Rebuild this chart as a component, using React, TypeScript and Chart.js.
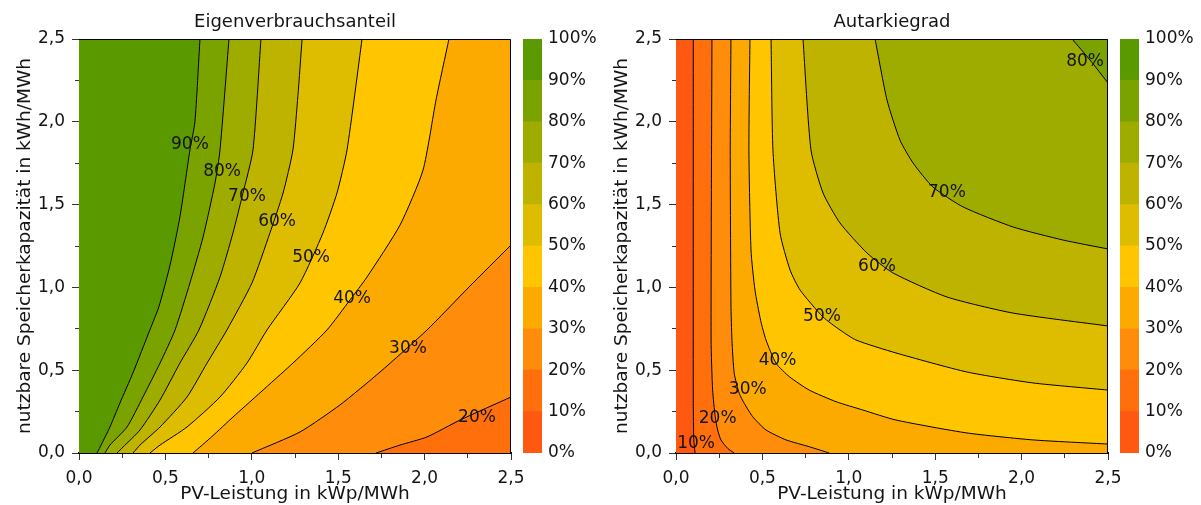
import React, { useEffect, useRef } from 'react';
import { Chart, registerables } from 'chart.js';

Chart.register(...registerables);

type Pt = [number, number];

const FONT = "'DejaVu Sans', Verdana, sans-serif";
const INK = '#141414';

// colours of the ten bands 0-10 % ... 90-100 %
const bandColors = [
  '#FF5810', '#FF700C', '#FF8C0A', '#FDAA00', '#FFC600',
  '#DEBD00', '#BEB400', '#9EAC00', '#7BA300', '#5A9A00',
];
const colorbarLabels = ['0%', '10%', '20%', '30%', '40%', '50%', '60%', '70%', '80%', '90%', '100%'];

const axisMin = 0;
const axisMax = 2.5;
const minorStep = 0.25;
const tickLabels = ['0,0', '0,5', '1,0', '1,5', '2,0', '2,5'];

const xTitle = 'PV-Leistung in kWp/MWh';
const yTitle = 'nutzbare Speicherkapazität in kWh/MWh';
const leftTitle = 'Eigenverbrauchsanteil';
const rightTitle = 'Autarkiegrad';

// ---- Eigenverbrauchsanteil: contour lines (x = PV, y = storage), bottom -> top/right
const ev20: Pt[] = [[1.719, 0], [1.858, 0.048], [2.014, 0.097], [2.205, 0.199], [2.5, 0.338]];
const ev30: Pt[] = [[1.001, 0], [1.279, 0.127], [1.51, 0.29], [1.742, 0.489], [2.014, 0.743], [2.251, 0.996], [2.5, 1.256]];
const ev40: Pt[] = [[0.66, 0], [0.77, 0.1], [0.891, 0.217], [1.238, 0.543], [1.435, 0.743], [1.568, 0.924], [1.667, 1.063], [1.858, 1.377], [1.991, 1.709], [2.066, 2.132], [2.141, 2.5]];
const ev50: Pt[] = [[0.411, 0], [0.469, 0.048], [0.625, 0.157], [0.816, 0.338], [0.972, 0.543], [1.088, 0.743], [1.279, 1.027], [1.412, 1.329], [1.493, 1.57], [1.551, 1.83], [1.638, 2.5]];
const ev60: Pt[] = [[0.313, 0], [0.353, 0.048], [0.469, 0.157], [0.625, 0.338], [0.741, 0.543], [0.856, 0.743], [1.001, 1.027], [1.105, 1.329], [1.181, 1.57], [1.238, 1.83], [1.267, 2.16], [1.291, 2.5]];
const ev70: Pt[] = [[0.22, 0], [0.255, 0.036], [0.353, 0.139], [0.469, 0.32], [0.584, 0.543], [0.694, 0.743], [0.816, 1.063], [0.891, 1.329], [0.949, 1.57], [1.007, 1.83], [1.053, 2.5]];
const ev80: Pt[] = [[0.15, 0], [0.179, 0.048], [0.278, 0.157], [0.37, 0.338], [0.469, 0.543], [0.556, 0.743], [0.642, 1.027], [0.718, 1.304], [0.787, 1.63], [0.816, 1.83], [0.868, 2.5]];
const ev90: Pt[] = [[0.104, 0], [0.122, 0.036], [0.179, 0.157], [0.237, 0.302], [0.312, 0.483], [0.41, 0.743], [0.462, 0.882], [0.527, 1.135], [0.584, 1.425], [0.642, 1.83], [0.671, 2.0], [0.7, 2.5]];
const evLevels = [20, 30, 40, 50, 60, 70, 80, 90];
const evLines = [ev20, ev30, ev40, ev50, ev60, ev70, ev80, ev90];
const evLabelPos: Pt[] = [[2.303, 0.211], [1.904, 0.628], [1.58, 0.93], [1.343, 1.178], [1.146, 1.395], [0.972, 1.546], [0.828, 1.697], [0.642, 1.86]];

// ---- Autarkiegrad: contour lines, top -> bottom/right
const aut10: Pt[] = [[0.1, 2.5], [0.1, 0.3], [0.103, 0.08], [0.11, 0]];
const aut20: Pt[] = [[0.208, 2.5], [0.203, 0.682], [0.212, 0.38], [0.227, 0.219], [0.241, 0.139], [0.26, 0.079], [0.299, 0.028], [0.336, 0]];
const aut30: Pt[] = [[0.318, 2.5], [0.314, 1.83], [0.318, 0.9], [0.324, 0.68], [0.337, 0.481], [0.366, 0.36], [0.395, 0.3], [0.444, 0.219], [0.521, 0.139], [0.637, 0.079], [0.771, 0.038], [0.887, 0]];
const aut40: Pt[] = [[0.428, 2.5], [0.422, 1.83], [0.434, 1.226], [0.457, 0.984], [0.49, 0.8], [0.521, 0.682], [0.579, 0.542], [0.656, 0.461], [0.771, 0.38], [0.926, 0.31], [1.08, 0.26], [1.273, 0.199], [1.684, 0.121], [2.066, 0.079], [2.5, 0.054]];
const aut50: Pt[] = [[0.55, 2.5], [0.561, 1.83], [0.602, 1.329], [0.66, 1.105], [0.718, 0.984], [0.851, 0.821], [0.949, 0.743], [1.042, 0.682], [1.273, 0.604], [1.684, 0.489], [2.066, 0.423], [2.5, 0.38]];
const aut60: Pt[] = [[0.735, 2.5], [0.781, 1.83], [0.851, 1.57], [0.949, 1.389], [1.105, 1.208], [1.256, 1.087], [1.568, 0.942], [1.95, 0.845], [2.5, 0.767]];
const aut70: Pt[] = [[1.152, 2.5], [1.221, 2.132], [1.296, 1.89], [1.372, 1.751], [1.487, 1.606], [1.661, 1.486], [1.95, 1.365], [2.24, 1.286], [2.5, 1.232]];
const aut80: Pt[] = [[2.292, 2.5], [2.396, 2.373], [2.5, 2.234]];
const autLevels = [10, 20, 30, 40, 50, 60, 70, 80];
const autLines = [aut10, aut20, aut30, aut40, aut50, aut60, aut70, aut80];
const autLabelPos: Pt[] = [[0.116, 0.058], [0.241, 0.205], [0.415, 0.38], [0.588, 0.557], [0.845, 0.821], [1.163, 1.123], [1.568, 1.57], [2.367, 2.361]];

const TENSION = 0.2;

// close a contour into the region where the value is above the level
function closeEv(line: Pt[]): Pt[] {
  const end = line[line.length - 1];
  const corners: Pt[] = end[0] >= axisMax && end[1] < axisMax
    ? [[axisMax, axisMax], [axisMin, axisMax], [axisMin, axisMin]]
    : [[axisMin, axisMax], [axisMin, axisMin]];
  return [...line, end, ...corners];
}
function closeAut(line: Pt[]): Pt[] {
  const end = line[line.length - 1];
  const corners: Pt[] = end[1] <= axisMin
    ? [[axisMax, axisMin], [axisMax, axisMax]]
    : [[axisMax, axisMax]];
  return [...line, end, ...corners];
}

const toXY = (pts: Pt[]) => pts.map(([x, y]) => ({ x, y }));

const tickFont = { family: FONT, size: 17 };
const titleFont = { family: FONT, size: 18.5 };

function fmtTick(_v: any, i: number) {
  return i % 2 === 0 ? tickLabels[i / 2] : '';
}

const framePlugin = {
  id: 'frame',
  afterDraw(chart: any) {
    const { ctx, chartArea: a } = chart;
    ctx.save();
    ctx.strokeStyle = '#000';
    ctx.lineWidth = 1;
    ctx.beginPath();
    ctx.moveTo(a.left, a.top + 0.5);
    ctx.lineTo(a.right - 0.5, a.top + 0.5);
    ctx.lineTo(a.right - 0.5, a.bottom);
    ctx.stroke();
    ctx.restore();
  },
};

function labelPlugin(levels: number[], pos: Pt[]) {
  return {
    id: 'contourLabels',
    afterDatasetsDraw(chart: any) {
      const { ctx, scales } = chart;
      ctx.save();
      ctx.font = `17px ${FONT}`;
      ctx.fillStyle = INK;
      ctx.textAlign = 'center';
      ctx.textBaseline = 'middle';
      levels.forEach((lv, i) => {
        ctx.fillText(lv + '%', scales.x.getPixelForValue(pos[i][0]), scales.y.getPixelForValue(pos[i][1]));
      });
      ctx.restore();
    },
  };
}

type PanelProps = {
  left: number;
  title: string;
  levels: number[];
  lines: Pt[][];
  labelPos: Pt[];
  baseBand: number;
  closer: (l: Pt[]) => Pt[];
};

function ContourPanel({ left, title, levels, lines, labelPos, baseBand, closer }: PanelProps) {
  const ref = useRef<HTMLCanvasElement>(null);
  useEffect(() => {
    const ds: any[] = [];
    const full: Pt[] = [[axisMin, axisMin], [axisMax, axisMin], [axisMax, axisMax], [axisMin, axisMax]];
    const fillDs = (pts: Pt[], color: string, tension: number) => ({
      data: toXY(pts), showLine: true, fill: 'shape', backgroundColor: color,
      borderColor: 'rgba(0,0,0,0)', borderWidth: 0, pointRadius: 0, pointHoverRadius: 0, tension,
    });
    ds.push(fillDs(full, bandColors[baseBand], 0));
    levels.forEach((lv, i) => ds.push(fillDs(closer(lines[i]), bandColors[lv / 10], TENSION)));
    lines.forEach((l) => ds.push({
      data: toXY(l), showLine: true, fill: false, borderColor: '#000', borderWidth: 1,
      pointRadius: 0, pointHoverRadius: 0, tension: TENSION,
    }));
    const n = ds.length;
    ds.forEach((d, k) => { d.order = n - k; });

    const chart = new Chart(ref.current!, {
      type: 'scatter',
      data: { datasets: ds },
      options: {
        animation: false,
        responsive: false,
        events: [],
        layout: { padding: { left: 0, right: 29, top: 0, bottom: 0 } },
        plugins: {
          legend: { display: false },
          tooltip: { enabled: false },
          title: {
            display: true, text: title, fullSize: false, color: INK,
            font: { family: FONT, size: 18, weight: 'normal' },
            padding: { top: 12, bottom: 5.4 },
          },
        },
        scales: {
          x: {
            type: 'linear', position: 'bottom', min: axisMin, max: axisMax, z: 1,
            ticks: { stepSize: minorStep, autoSkip: false, maxRotation: 0, color: INK, font: tickFont, padding: 8, callback: fmtTick },
            grid: {
              drawOnChartArea: false, drawTicks: true, tickLength: 7, tickColor: '#333', tickWidth: 1,
              tickBorderDash: (c: any) => (c.index % 2 === 0 ? [] : [4, 50]),
            },
            border: { display: true, color: '#000', width: 2 },
            title: { display: true, text: xTitle, color: INK, font: titleFont, padding: { top: 0, bottom: 0 } },
            afterFit: (s: any) => { s.height = 52; },
          },
          y: {
            type: 'linear', position: 'left', min: axisMin, max: axisMax, z: 1,
            ticks: { stepSize: minorStep, autoSkip: false, color: INK, font: tickFont, padding: 7, callback: fmtTick },
            grid: {
              drawOnChartArea: false, drawTicks: true, tickLength: 7, tickColor: '#333', tickWidth: 1,
              tickBorderDash: (c: any) => (c.index % 2 === 0 ? [] : [0, 3, 4, 50]),
            },
            border: { display: true, color: '#000', width: 1 },
            title: { display: true, text: yTitle, color: INK, font: titleFont, padding: { top: 14, bottom: 0 } },
            afterFit: (s: any) => { s.width = 79; },
          },
        },
      } as any,
      plugins: [framePlugin, labelPlugin(levels, labelPos)],
    });
    return () => chart.destroy();
  }, []);
  return (
    <canvas ref={ref} width={540} height={505}
      style={{ position: 'absolute', left, top: 0, width: 540, height: 505 }} />
  );
}

function ColorBar({ left }: { left: number }) {
  const ref = useRef<HTMLCanvasElement>(null);
  const W = 81;
  useEffect(() => {
    const chart = new Chart(ref.current!, {
      type: 'bar',
      data: {
        labels: [''],
        datasets: bandColors.map((c) => ({
          data: [10], backgroundColor: c, borderWidth: 0, barPercentage: 1, categoryPercentage: 1,
        })),
      },
      options: {
        animation: false,
        responsive: false,
        events: [],
        layout: { padding: { top: 39, bottom: 52, left: 0, right: 0 } },
        plugins: { legend: { display: false }, tooltip: { enabled: false } },
        scales: {
          x: { display: false, stacked: true },
          y: {
            stacked: true, position: 'right', min: 0, max: 100,
            ticks: { stepSize: 10, color: INK, font: tickFont, padding: 6, callback: (_v: any, i: number) => colorbarLabels[i] },
            grid: { display: false, drawTicks: false },
            border: { display: false },
            afterFit: (s: any) => { s.width = W - 19; },
          },
        },
      } as any,
    });
    return () => chart.destroy();
  }, []);
  return (
    <canvas ref={ref} width={W} height={505}
      style={{ position: 'absolute', left, top: 0, width: W, height: 505 }} />
  );
}

export default function App() {
  return (
    <div style={{ position: 'absolute', left: 0, top: 0, width: 1201, height: 505, background: '#fff', overflow: 'hidden' }}>
      <ContourPanel left={0} title={leftTitle} levels={evLevels} lines={evLines} labelPos={evLabelPos} baseBand={1} closer={closeEv} />
      <ColorBar left={523} />
      <ContourPanel left={597} title={rightTitle} levels={autLevels} lines={autLines} labelPos={autLabelPos} baseBand={0} closer={closeAut} />
      <ColorBar left={1120} />
    </div>
  );
}
